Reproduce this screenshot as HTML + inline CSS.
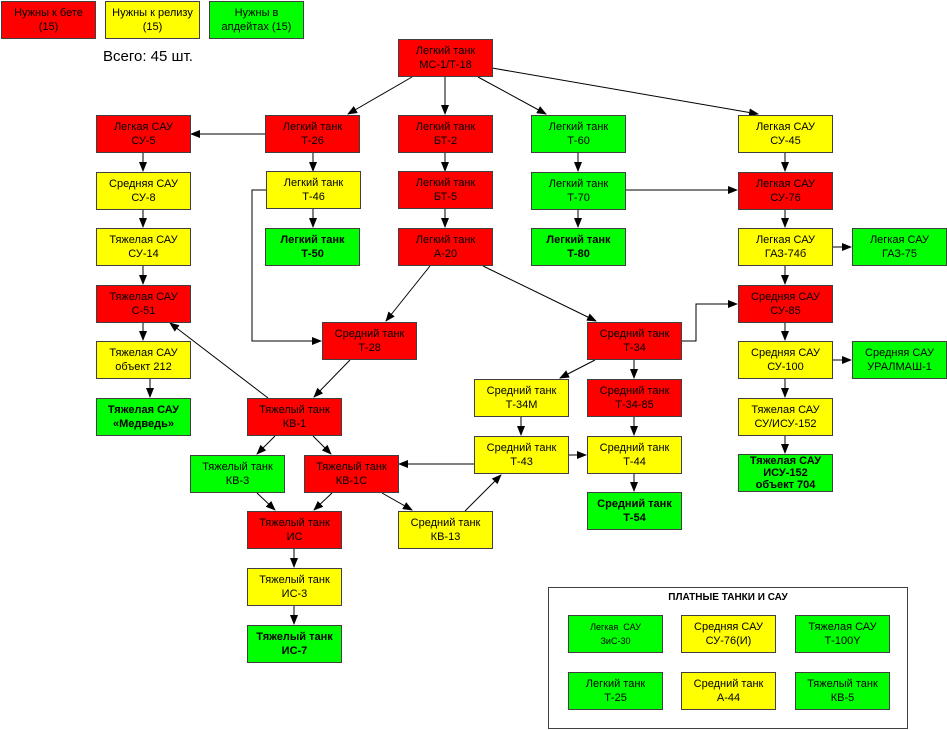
<!DOCTYPE html>
<html><head><meta charset="utf-8"><style>
body{margin:0;width:947px;height:730px;background:#fff;position:relative;overflow:hidden;font-family:"Liberation Sans",Arial,sans-serif;}
.b{position:absolute;width:93px;height:36px;border:1px solid #404040;font-size:11px;line-height:14px;text-align:center;display:flex;flex-direction:column;justify-content:center;color:#000;box-sizing:content-box;}
.r{background:#ff0000}.y{background:#ffff00}.g{background:#00ff00}
.bd{font-weight:bold}
svg{position:absolute;left:0;top:0}
</style></head><body>
<svg width="947" height="730">
<defs><marker id="a" markerWidth="10" markerHeight="8" refX="9" refY="4" orient="auto" markerUnits="userSpaceOnUse"><path d="M0,0 L10,4 L0,8z" fill="#000"/></marker></defs>
<g stroke="#000" stroke-width="1" fill="none" marker-end="url(#a)">
<line x1="412" y1="77" x2="348" y2="114"/>
<line x1="445" y1="77" x2="445" y2="114"/>
<line x1="478" y1="77" x2="546" y2="114"/>
<line x1="492" y1="68" x2="758" y2="114"/>
<line x1="265" y1="134" x2="191" y2="134"/>
<line x1="313" y1="153" x2="313" y2="171"/>
<line x1="313" y1="209" x2="313" y2="227"/>
<polyline points="266,190 252,190 252,341 321,341"/>
<line x1="445" y1="153" x2="445" y2="171"/>
<line x1="445" y1="209" x2="445" y2="227"/>
<line x1="430" y1="266" x2="386" y2="321"/>
<line x1="483" y1="266" x2="596" y2="321"/>
<line x1="578" y1="153" x2="578" y2="171"/>
<line x1="578" y1="209" x2="578" y2="227"/>
<line x1="625" y1="190" x2="737" y2="190"/>
<line x1="785" y1="153" x2="785" y2="171"/>
<line x1="785" y1="210" x2="785" y2="227"/>
<line x1="785" y1="266" x2="785" y2="284"/>
<line x1="785" y1="323" x2="785" y2="340"/>
<line x1="785" y1="379" x2="785" y2="397"/>
<line x1="785" y1="436" x2="785" y2="453"/>
<line x1="832" y1="247" x2="851" y2="247"/>
<line x1="832" y1="360" x2="851" y2="360"/>
<polyline points="681,341 696,341 696,304 737,304"/>
<line x1="595" y1="360" x2="560" y2="378"/>
<line x1="634" y1="360" x2="634" y2="378"/>
<line x1="634" y1="417" x2="634" y2="435"/>
<line x1="634" y1="474" x2="634" y2="491"/>
<line x1="521" y1="417" x2="521" y2="435"/>
<line x1="568" y1="455" x2="586" y2="455"/>
<line x1="474" y1="464" x2="399" y2="464"/>
<line x1="350" y1="360" x2="314" y2="397"/>
<line x1="268" y1="398" x2="170" y2="323"/>
<line x1="275" y1="436" x2="257" y2="454"/>
<line x1="313" y1="436" x2="331" y2="454"/>
<line x1="257" y1="493" x2="275" y2="510"/>
<line x1="332" y1="493" x2="314" y2="510"/>
<line x1="382" y1="493" x2="412" y2="510"/>
<line x1="465" y1="511" x2="501" y2="475"/>
<line x1="294" y1="549" x2="294" y2="567"/>
<line x1="294" y1="606" x2="294" y2="624"/>
<line x1="143" y1="153" x2="143" y2="171"/>
<line x1="143" y1="210" x2="143" y2="227"/>
<line x1="143" y1="266" x2="143" y2="284"/>
<line x1="143" y1="323" x2="143" y2="340"/>
<line x1="150" y1="379" x2="150" y2="397"/>
</g>
<rect x="548.5" y="587.5" width="359" height="141" fill="none" stroke="#404040"/>
</svg>
<div class="b r" style="left:1px;top:1px">Нужны к бете<br>(15)</div>
<div class="b y" style="left:105px;top:1px">Нужны к релизу<br>(15)</div>
<div class="b g" style="left:209px;top:1px">Нужны в<br>апдейтах (15)</div>
<div style="position:absolute;left:103px;top:48px;font-size:15px">Всего: 45 шт.</div>

<div class="b r" style="left:398px;top:39px">Легкий танк<br>МС-1/Т-18</div>
<div class="b r" style="left:96px;top:115px">Легкая САУ<br>СУ-5</div>
<div class="b r" style="left:265px;top:115px">Легкий танк<br>Т-26</div>
<div class="b r" style="left:398px;top:115px">Легкий танк<br>БТ-2</div>
<div class="b g" style="left:531px;top:115px">Легкий танк<br>Т-60</div>
<div class="b y" style="left:738px;top:115px">Легкая САУ<br>СУ-45</div>

<div class="b y" style="left:96px;top:172px">Средняя САУ<br>СУ-8</div>
<div class="b y" style="left:266px;top:171px">Легкий танк<br>Т-46</div>
<div class="b r" style="left:398px;top:171px">Легкий танк<br>БТ-5</div>
<div class="b g" style="left:531px;top:172px">Легкий танк<br>Т-70</div>
<div class="b r" style="left:738px;top:172px">Легкая САУ<br>СУ-76</div>

<div class="b y" style="left:96px;top:228px">Тяжелая САУ<br>СУ-14</div>
<div class="b g bd" style="left:265px;top:228px">Легкий танк<br>Т-50</div>
<div class="b r" style="left:398px;top:228px">Легкий танк<br>А-20</div>
<div class="b g bd" style="left:531px;top:228px">Легкий танк<br>Т-80</div>
<div class="b y" style="left:738px;top:228px">Легкая САУ<br>ГАЗ-74б</div>
<div class="b g" style="left:852px;top:228px">Легкая САУ<br>ГАЗ-75</div>

<div class="b r" style="left:96px;top:285px">Тяжелая САУ<br>С-51</div>
<div class="b r" style="left:738px;top:285px">Средняя САУ<br>СУ-85</div>
<div class="b r" style="left:322px;top:322px">Средний танк<br>Т-28</div>
<div class="b r" style="left:587px;top:322px">Средний танк<br>Т-34</div>

<div class="b y" style="left:96px;top:341px">Тяжелая САУ<br>объект 212</div>
<div class="b y" style="left:738px;top:341px">Средняя САУ<br>СУ-100</div>
<div class="b g" style="left:852px;top:341px">Средняя САУ<br>УРАЛМАШ-1</div>
<div class="b y" style="left:474px;top:379px">Средний танк<br>Т-34М</div>
<div class="b r" style="left:587px;top:379px">Средний танк<br>Т-34-85</div>

<div class="b g bd" style="left:96px;top:398px">Тяжелая САУ<br>«Медведь»</div>
<div class="b r" style="left:247px;top:398px">Тяжелый танк<br>КВ-1</div>
<div class="b y" style="left:738px;top:398px">Тяжелая САУ<br>СУ/ИСУ-152</div>

<div class="b y" style="left:474px;top:436px">Средний танк<br>Т-43</div>
<div class="b y" style="left:587px;top:436px">Средний танк<br>Т-44</div>
<div class="b g" style="left:190px;top:455px">Тяжелый танк<br>КВ-3</div>
<div class="b r" style="left:304px;top:455px">Тяжелый танк<br>КВ-1С</div>
<div class="b g bd" style="left:738px;top:454px;line-height:12px">Тяжелая САУ<br>ИСУ-152<br>объект 704</div>
<div class="b g bd" style="left:587px;top:492px">Средний танк<br>Т-54</div>

<div class="b r" style="left:247px;top:511px">Тяжелый танк<br>ИС</div>
<div class="b y" style="left:398px;top:511px">Средний танк<br>КВ-13</div>
<div class="b y" style="left:247px;top:568px">Тяжелый танк<br>ИС-3</div>
<div class="b g bd" style="left:247px;top:625px">Тяжелый танк<br>ИС-7</div>

<div style="position:absolute;left:548px;top:592px;width:360px;text-align:center;font-size:10px;font-weight:bold">ПЛАТНЫЕ ТАНКИ И САУ</div>
<div class="b g" style="left:568px;top:615px;font-size:9px">Легкая&nbsp; САУ<br>ЗиС-30</div>
<div class="b y" style="left:681px;top:615px">Средняя САУ<br>СУ-76(И)</div>
<div class="b g" style="left:795px;top:615px">Тяжелая САУ<br>Т-100Y</div>
<div class="b g" style="left:568px;top:672px">Легкий танк<br>Т-25</div>
<div class="b y" style="left:681px;top:672px">Средний танк<br>А-44</div>
<div class="b g" style="left:795px;top:672px">Тяжелый танк<br>КВ-5</div>
</body></html>
